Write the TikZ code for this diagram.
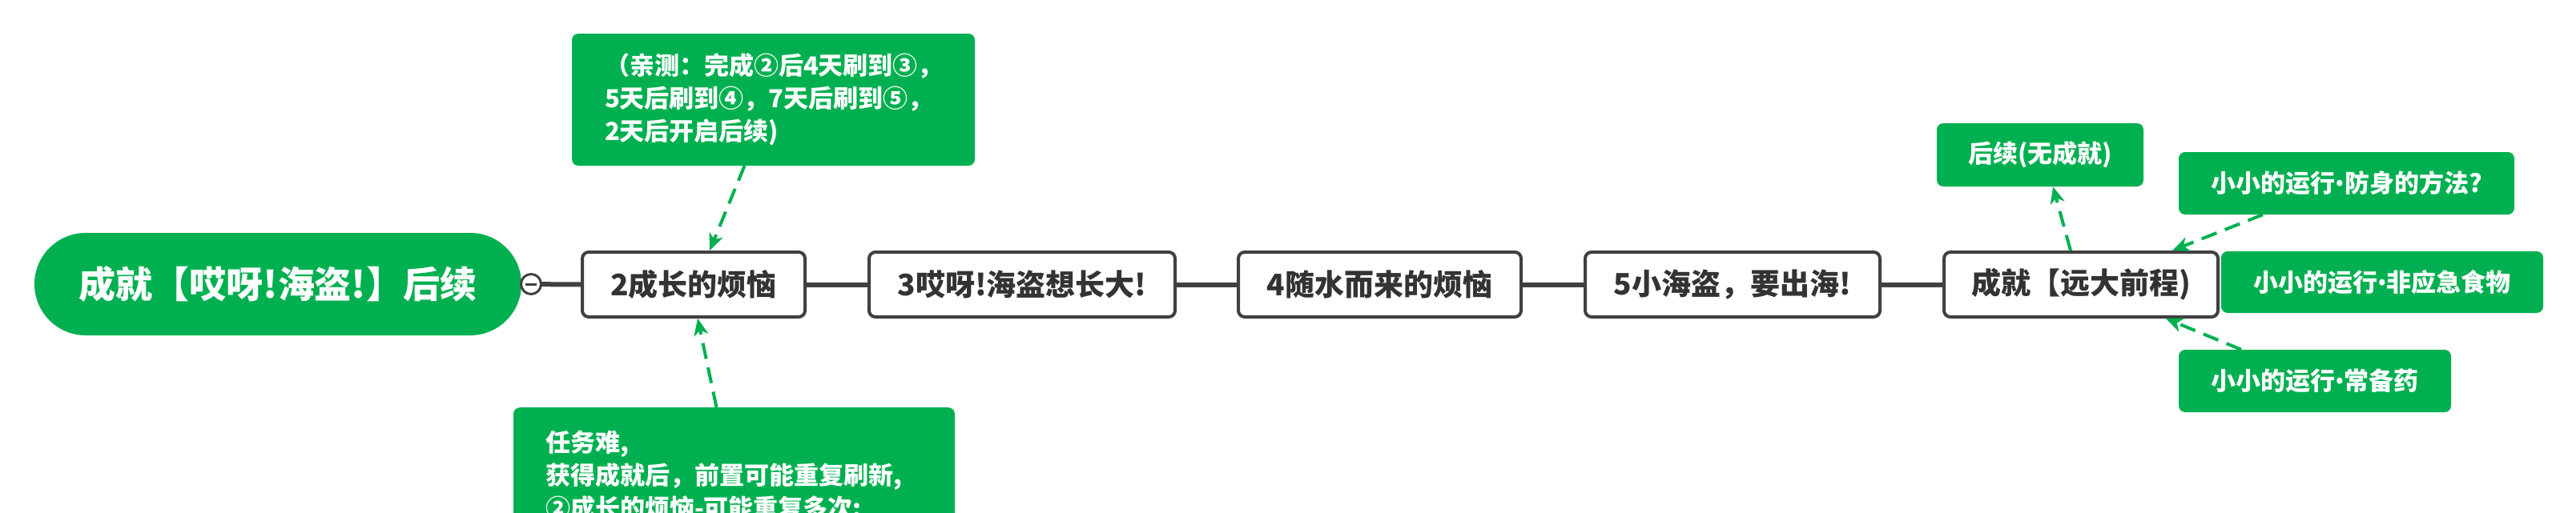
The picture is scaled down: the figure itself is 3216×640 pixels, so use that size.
\documentclass[tikz,border=0pt]{standalone}
\usepackage{fontspec}
\setmainfont{Noto Sans CJK SC}
\newfontfamily\latinf{Noto Sans}
\newcommand{\mydot}{{\latinf\bfseries •}}
\usetikzlibrary{arrows.meta,calc,shapes.misc}
\definecolor{gr}{RGB}{0,176,80}
\definecolor{dk}{RGB}{64,64,64}
\definecolor{tx}{RGB}{51,51,51}
\pgfdeclarelayer{bg}
\pgfsetlayers{bg,main}
\begin{document}
\begin{tikzpicture}[x=1pt,y=-1pt,
  topic/.style={draw=dk, line width=4pt, fill=white, rounded corners=8pt,
    minimum height=81pt, text=tx, inner sep=0pt,
    font=\bfseries\fontsize{37}{44}\selectfont},
  note/.style={fill=gr, rounded corners=8pt, text=white, inner sep=0pt,
    font=\bfseries\fontsize{31}{41}\selectfont},
  link/.style={draw=dk, line width=6pt},
  darr/.style={draw=gr, line width=4pt, dash pattern=on 20pt off 11pt,
    -{Stealth[length=21pt,width=18pt,inset=6pt]}},
]
\useasboundingbox (0,0) rectangle (3216,640);
\clip (0,0) rectangle (3216,640);

% root
\node[rounded rectangle, fill=gr, minimum width=608pt, minimum height=128pt,
  inner sep=0pt, text=white, font=\bfseries\fontsize{46}{50}\selectfont]
  (root) at (347,355) {成就【哎呀!海盗!】后续};

% topics
\node[topic, minimum width=278pt] (n2) at (866,355.5) {2成长的烦恼};
\node[topic, minimum width=382pt] (n3) at (1276,355.5) {3哎呀!海盗想长大!};
\node[topic, minimum width=353pt] (n4) at (1722.5,355.5) {4随水而来的烦恼};
\node[topic, minimum width=368pt] (n5) at (2163,355.5) {5小海盗，要出海!};
\node[topic, minimum width=342pt] (n6) at (2598,355.5) {成就【远大前程)};

% links (behind the boxes)
\begin{pgfonlayer}{bg}
\draw[link] (root.east) -- (n2.west);
\draw[link] (n2.east) -- (n3.west);
\draw[link] (n3.east) -- (n4.west);
\draw[link] (n4.east) -- (n5.west);
\draw[link] (n5.east) -- (n6.west);
\end{pgfonlayer}

% collapse button
\node[circle, draw=dk, line width=3pt, fill=white, minimum size=25pt, inner sep=0pt,
  path picture={\draw[dk, line width=3pt]
    ($(path picture bounding box.center)+(-7,0)$) -- ++(14,0);}]
  (col) at (663,355) {};

% notes
\node[note, text width=421pt, minimum width=503pt, minimum height=165pt, align=left]
  (tn) at (965.5,124.5)
  {（亲测：完成②后4天刷到③，\\5天后刷到④，7天后刷到⑤，\\2天后开启后续)};
\node[note, text width=471pt, minimum width=551pt, inner ysep=29pt, align=left,
  anchor=north] (bn) at (916.5,509)
  {任务难,\\获得成就后，前置可能重复刷新,\\②成长的烦恼-可能重复多次:};

\node[note, minimum width=258pt, minimum height=79pt] (hx) at (2547,193.5) {后续(无成就)};
\node[note, minimum width=419pt, minimum height=78pt] (fs) at (2929.5,229) {小小的运行\mydot 防身的方法?};
\node[note, minimum width=402pt, minimum height=77pt] (fj) at (2974,352.5) {小小的运行\mydot 非应急食物};
\node[note, minimum width=340pt, minimum height=78pt] (cb) at (2890,476) {小小的运行\mydot 常备药};

% dashed arrows
\draw[darr] ($(tn.south)+(-36,0)$) -- ($(n2.north)+(20,0)$);
\draw[darr] ($(bn.north)+(-22,0)$) -- ($(n2.south)+(5,0)$);
\draw[darr] ($(n6.north)+(-13,0)$) -- ($(hx.south)+(16,0)$);
\draw[darr] ($(fs.south)+(-104.5,0)$) -- ($(n6.north)+(114,0)$);
\draw[darr] ($(cb.north)+(-92,0)$) -- ($(n6.south)+(106,0)$);
\end{tikzpicture}
\end{document}
